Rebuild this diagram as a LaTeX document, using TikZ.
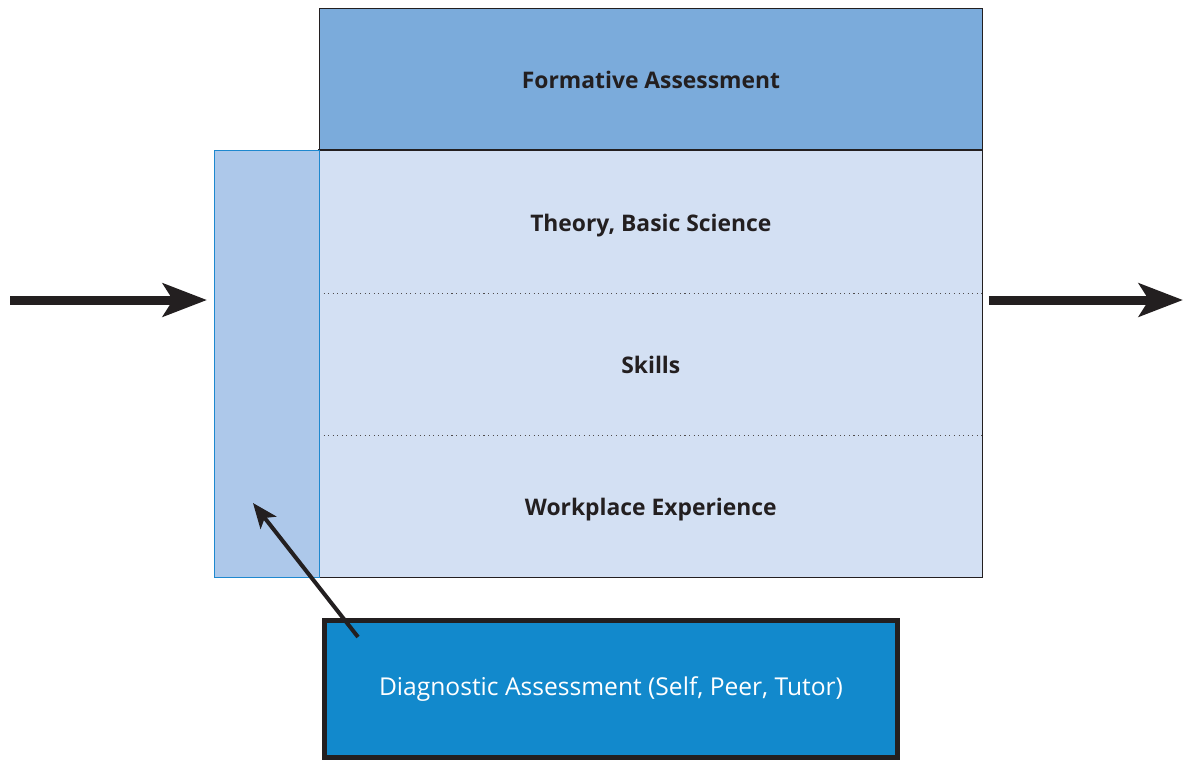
\documentclass[tikz,border=0pt]{standalone}
\usepackage{fontspec}
\setmainfont{Open Sans}
\usepackage{xcolor}
\usepackage{tikz}
\usetikzlibrary{arrows.meta}

\definecolor{topblue}{HTML}{7BABDB}
\definecolor{rowblue}{HTML}{D3E0F3}
\definecolor{barblue}{HTML}{ADC8EA}
\definecolor{baredge}{HTML}{1E88CF}
\definecolor{diagblue}{HTML}{1289CC}
\definecolor{ink}{HTML}{231F20}

\tikzstyle{block} = [rectangle, anchor=north west, inner sep=0pt, minimum width=13.26cm, font=\fontsize{13}{15}\selectfont\bfseries, text=ink]
\tikzstyle{row} = [block, fill=rowblue, text height=0.48cm, text depth=0.1cm]
\tikzstyle{bigarrow} = [ink, line width=0.18cm, -{Stealth[length=0.88cm, width=0.66cm, inset=0.2cm]}]
\tikzstyle{smallarrow} = [ink, line width=0.08cm, -{Stealth[length=0.5cm, width=0.4cm, inset=0.12cm]}]

\begin{document}
\begin{tikzpicture}[x=0.02cm, y=-0.02cm]
	\useasboundingbox (0,0) rectangle (1186,762);

	% Top band and the three rows below it
	\node[block, fill=topblue, draw=ink, line width=0.6pt, minimum height=2.84cm] (formative) at (319,8) {Formative Assessment};
	\node[row, minimum height=2.85cm] (theory)    at (319,150) {Theory, Basic Science};
	\node[row, minimum height=2.85cm] (skills)    at (319,292.5) {Skills};
	\node[row, minimum height=2.84cm] (workplace) at (319,435) {Workplace Experience};
	\draw[ink, line width=0.6pt] (theory.north west) rectangle (workplace.south east);
	% Dotted separators between the rows
	\foreach \r in {theory, skills}{%
		\draw[ink!80, dotted, line width=0.6pt] (\r.south west) -- (\r.south east);
	}

	% Side bar on the left of the rows
	\node[rectangle, anchor=north west, inner sep=0pt, minimum width=2.1cm, minimum height=8.54cm,
		fill=barblue, draw=baredge, line width=0.6pt] (bar) at (214,150) {};

	% Diagnostic box at the bottom
	\node[rectangle, inner sep=0pt, minimum width=11.46cm, minimum height=2.74cm, fill=diagblue,
		draw=ink, line width=0.11cm, text=white, font=\fontsize{14}{16}\selectfont] (diag) at (611,689)
		{Diagnostic Assessment (Self, Peer, Tutor)\hspace{0.2cm}};

	% In and out arrows
	\coordinate (in)  at (10,300);
	\coordinate (out) at (1183,300);
	\draw[bigarrow, shorten >=0.14cm] (in) -- (in -| bar.west);
	\draw[bigarrow, shorten <=0.12cm] (out -| formative.east) -- (out);

	% Feedback arrow from the diagnostic box into the bar
	\coordinate (tail) at (358,637);
	\coordinate (tip)  at (253,503);
	\draw[smallarrow] (tail) -- (tip);
\end{tikzpicture}
\end{document}
